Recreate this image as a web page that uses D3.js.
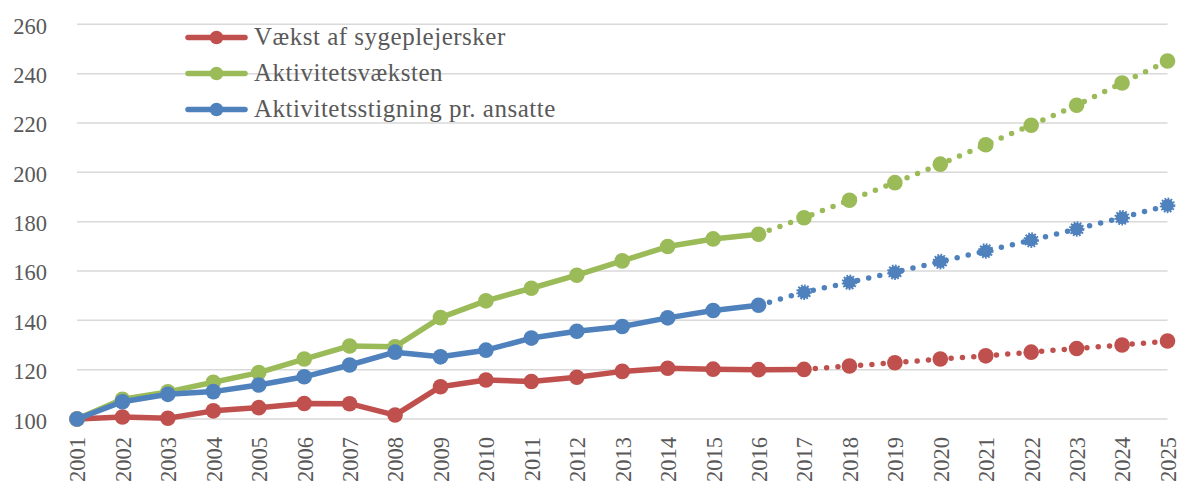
<!DOCTYPE html>
<html>
<head>
<meta charset="utf-8">
<script src="https://cdn.jsdelivr.net/npm/d3@7"></script>
<style>
  body { margin: 0; background: #fff; }
  svg text { font-family: "Liberation Serif", "Times New Roman", Tinos, "DejaVu Serif", serif; fill: #595959; }
</style>
</head>
<body>
<svg id="chart" width="1178" height="485"></svg>
<script>
const years = [2001, 2002, 2003, 2004, 2005, 2006, 2007, 2008, 2009, 2010, 2011, 2012, 2013,
    2014, 2015, 2016, 2017, 2018, 2019, 2020, 2021, 2022, 2023, 2024, 2025];

// Vækst af sygeplejersker
const nurseGrowth = [100, 100.8, 100.3, 103.3, 104.6, 106.3, 106.2, 101.6, 113.1, 115.8, 115.2,
    116.9, 119.3, 120.6, 120.2, 120.0, 120.1, 121.5, 122.8, 124.3, 125.6, 127.1, 128.6, 130.0, 131.6];

// Aktivitetsvæksten
const activityGrowth = [100, 108.0, 111.0, 114.9, 118.8, 124.3, 129.6, 129.3, 141.1, 147.9, 153.0,
    158.3, 164.1, 169.9, 173.0, 174.9, 181.6, 188.7, 195.8, 203.3, 211.2, 219.1, 227.2, 236.2, 245.1];

// Aktivitetsstigning pr. ansatte
const activityPerStaff = [100, 107.0, 110.0, 111.1, 113.8, 117.1, 121.9, 127.1, 125.2, 127.9, 132.8,
    135.6, 137.5, 141.0, 144.0, 146.1, 151.4, 155.4, 159.5, 163.8, 168.1, 172.5, 177.0, 181.6, 186.6];

const seriesNames = ['Vækst af sygeplejersker', 'Aktivitetsvæksten', 'Aktivitetsstigning pr. ansatte'];
const lastActualYear = [2017, 2016, 2016]; // after this the line is a projection (dotted)
const yTicks = [100, 120, 140, 160, 180, 200, 220, 240, 260];

const colors = ['#C0504D', '#9BBB59', '#4F81BD'];
const font = '"Liberation Serif", "Times New Roman", Tinos, "DejaVu Serif", serif';

const series = [nurseGrowth, activityGrowth, activityPerStaff].map((vals, i) => ({
    name: seriesNames[i],
    color: colors[i],
    cut: lastActualYear[i],
    points: years.map((yr, j) => ({ year: yr, value: vals[j] }))
}));

const svg = d3.select('#chart');

const x = d3.scalePoint()
    .domain(years)
    .range([77, 1167.5]);

const y = d3.scaleLinear()
    .domain([100, 260])
    .range([419, 24.3]);

// gridlines
svg.append('g')
    .selectAll('line')
    .data(yTicks)
    .join('line')
    .attr('x1', x(years[0]))
    .attr('x2', x(years[years.length - 1]))
    .attr('y1', d => y(d))
    .attr('y2', d => y(d))
    .attr('stroke', '#D9D9D9')
    .attr('stroke-width', 1.5);

// y axis labels
const yAxis = svg.append('g')
    .attr('transform', 'translate(47,0)')
    .call(d3.axisLeft(y).tickValues(yTicks).tickSize(0).tickPadding(0))
    .attr('font-family', font)
    .attr('font-size', 22.5);
yAxis.select('.domain').remove();
yAxis.selectAll('text')
    .attr('dy', '0.4em')
    .attr('fill', '#595959');

// x axis labels, rotated
const xAxis = svg.append('g')
    .attr('transform', 'translate(0,437)')
    .call(d3.axisBottom(x).tickSize(0).tickPadding(0))
    .attr('font-family', font)
    .attr('font-size', 22.5);
xAxis.select('.domain').remove();
xAxis.selectAll('text')
    .attr('fill', '#595959')
    .attr('text-anchor', 'end')
    .attr('transform', 'rotate(-90)')
    .attr('x', 0)
    .attr('y', 0)
    .attr('dy', '0.35em');

const line = d3.line()
    .x(d => x(d.year))
    .y(d => y(d.value));

series.forEach((s, i) => {
    const g = svg.append('g');
    const actual = s.points.filter(p => p.year <= s.cut);
    const projected = s.points.filter(p => p.year >= s.cut);

    g.append('path')
        .attr('d', line(projected))
        .attr('fill', 'none')
        .attr('stroke', s.color)
        .attr('stroke-width', 5.5)
        .attr('stroke-linecap', 'round')
        .attr('stroke-dasharray', '0 11.35');

    g.append('path')
        .attr('d', line(actual))
        .attr('fill', 'none')
        .attr('stroke', s.color)
        .attr('stroke-width', 5.5)
        .attr('stroke-linejoin', 'round');

    g.selectAll('circle.m')
        .data(s.points)
        .join('circle')
        .attr('class', 'm')
        .attr('cx', d => x(d.year))
        .attr('cy', d => y(d.value))
        .attr('r', d => (i === 2 && d.year > s.cut) ? 6.3 : 7.8)
        .attr('fill', s.color)
        .attr('stroke', d => (i === 2 && d.year > s.cut) ? s.color : 'none')
        .attr('stroke-width', 3)
        .attr('stroke-dasharray', '1.6 1.3');
});

// legend
const legend = svg.append('g')
    .attr('font-family', font);
series.forEach((s, i) => {
    const ly = 37.5 + i * 36;
    legend.append('line')
        .attr('x1', 188).attr('x2', 245)
        .attr('y1', ly).attr('y2', ly)
        .attr('stroke', s.color)
        .attr('stroke-width', 5.5)
        .attr('stroke-linecap', 'round');
    legend.append('circle')
        .attr('cx', 216.5).attr('cy', ly)
        .attr('r', 6.8)
        .attr('fill', s.color);
    legend.append('text')
        .attr('x', 254).attr('y', ly)
        .attr('dy', '0.3em')
        .attr('font-size', 25)
        .attr('letter-spacing', 0.5)
        .text(s.name);
});
</script>
</body>
</html>
